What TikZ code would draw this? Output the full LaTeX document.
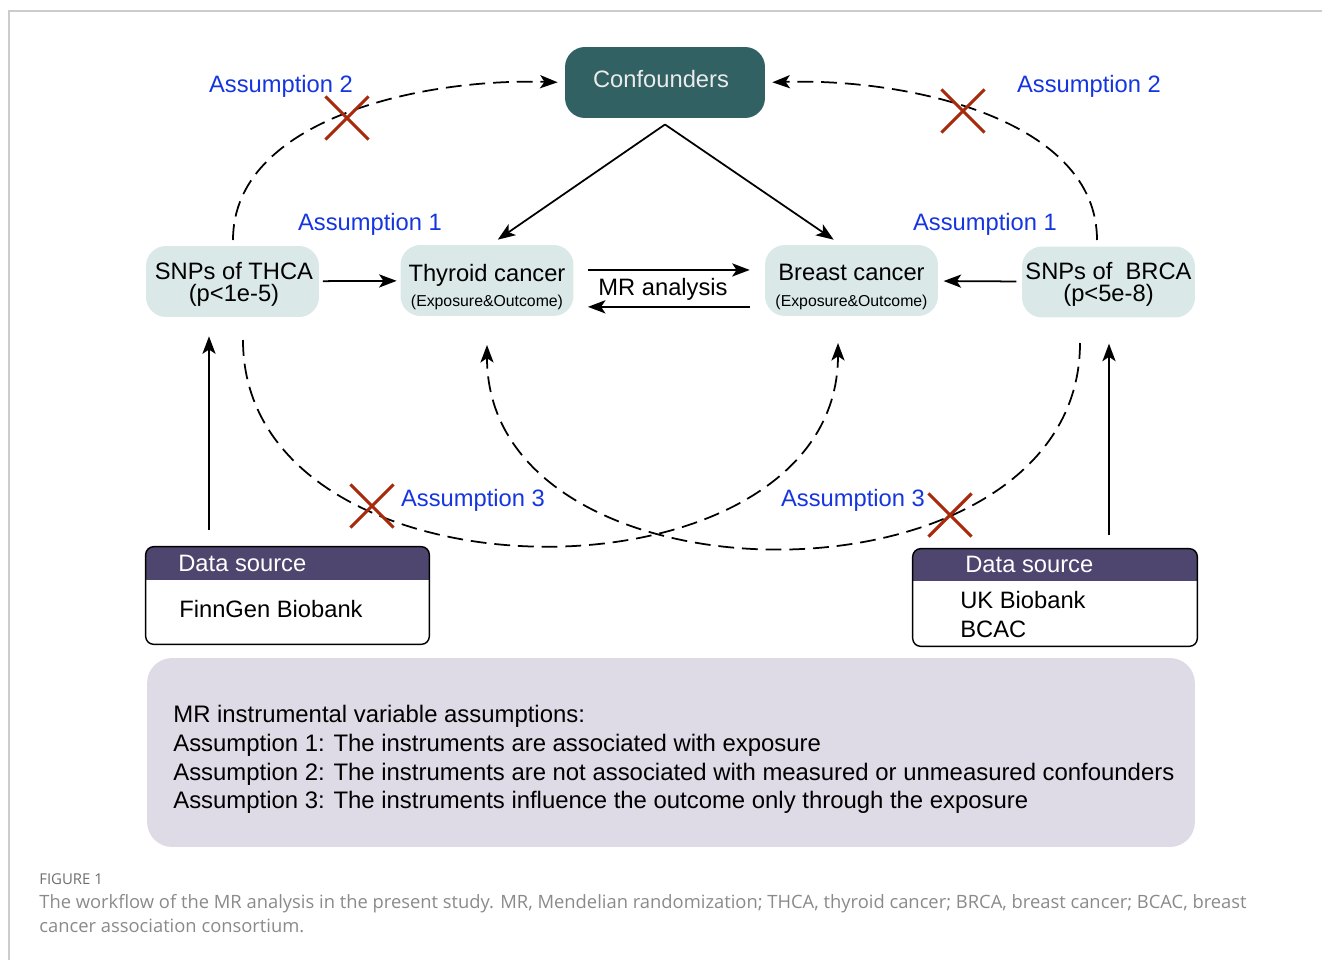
\documentclass[tikz,border=0pt]{standalone}
\usepackage{fontspec}
\setmainfont{Liberation Sans}
\newfontfamily\capfont{Open Sans}
\usetikzlibrary{arrows.meta,shapes.misc}
\definecolor{confcol}{HTML}{316163}
\definecolor{snpcol}{HTML}{DAE8E8}
\definecolor{hdrcol}{HTML}{4F466F}
\definecolor{boxcol}{HTML}{DFDBE6}
\definecolor{asmblue}{HTML}{1535E0}
\definecolor{crossred}{HTML}{A82A0C}
\definecolor{capgray}{HTML}{8A8A8A}
\definecolor{framegray}{HTML}{CCCCCC}
\begin{document}
\begin{tikzpicture}[x=0.02cm, y=-0.02cm,
	every node/.style={font=\fontsize{13.5}{16}\selectfont},
	snpbox/.style={shape=rectangle, rounded corners=0.4cm, fill=snpcol, minimum width=3.46cm, minimum height=1.42cm, inner sep=0pt},
	boxtext/.style={inner sep=0pt, align=center, font=\fontsize{13.5}{12.5}\selectfont},
	confbox/.style={shape=rectangle, rounded corners=0.4cm, fill=confcol, minimum width=4cm, minimum height=1.42cm},
	srcbox/.style={shape=rectangle, minimum width=5.66cm, minimum height=1.94cm, inner sep=0pt},
	plain/.style={inner sep=0pt},
	asmtext/.style={text=asmblue},
	nocross/.style={shape=cross out, draw=crossred, line width=1.8pt, minimum size=0.8cm, inner sep=0pt},
	arr/.style={line width=1pt, -{Stealth[length=10pt, width=7.5pt, inset=2.5pt]}},
	dasharr/.style={arr, dash pattern=on 9pt off 4.5pt}]
	\useasboundingbox (0,0) rectangle (1322,960);
	% Frame
	\draw[framegray, line width=0.8pt] (9,960) -- (9,11) -- (1322,11);
	% Top node
	\node[confbox] (conf) at (665,82.5) {};
	\node[text=white!92!black] (confT) at (661,79) {Confounders};
	% Middle row
	\node[snpbox] (snpL) at (232.5,281.5) {};
	\node[boxtext] (snpLT) at (234,284) {SNPs of THCA\\(p<1e-5)};
	\node[snpbox] (thy) at (487,280.5) {};
	\node[boxtext] (thyT) at (487,287) {Thyroid cancer\\[2pt]{\fontsize{9}{10}\selectfont (Exposure\&Outcome)}};
	\node[snpbox] (brc) at (851.5,280.5) {};
	\node[boxtext] (brcT) at (851.5,287) {Breast cancer\\[2pt]{\fontsize{9}{10}\selectfont (Exposure\&Outcome)}};
	\node[snpbox] (snpR) at (1108.5,282) {};
	\node[boxtext] (snpRT) at (1108.5,284) {SNPs of\ \ BRCA\\(p<5e-8)};
	% Connections in the middle row
	\draw[arr, shorten <=2pt, shorten >=2pt] (snpL) -- (thy);
	\draw[arr, shorten <=8pt, shorten >=8.5pt] ([yshift=6pt]thy.east) -- ([yshift=6pt]brc.west);
	\draw[arr, shorten <=8.5pt, shorten >=8pt] ([yshift=-15pt]brc.west) -- ([yshift=-15pt]thy.east);
	\node (mr) at (663,289) {MR analysis};
	\draw[arr, shorten <=3pt, shorten >=3pt] (snpR) -- (brc);
	% Confounders to outcomes
	\coordinate (apex) at ([yshift=-3.5pt]conf.south);
	\draw[arr, shorten >=5pt] (apex) -- ([xshift=2pt]thy.north);
	\draw[arr, shorten >=5pt] (apex) -- ([xshift=-6pt]brc.north);
	\node[asmtext] (a1L) at (370,224) {Assumption 1};
	\node[asmtext] (a1R) at (985,224) {Assumption 1};
	% Assumption 2
	\coordinate (c2L) at (233,240);
	\coordinate (c2R) at (1097,240);
	\draw[dasharr, shorten >=4pt] (c2L) .. controls (233,120) and (420,78) .. (conf.west);
	\draw[dasharr, shorten >=4pt] (c2R) .. controls (1097,120) and (910,78) .. (conf.east);
	\node[nocross] (x2L) at (347,118) {};
	\node[nocross] (x2R) at (963,111) {};
	\node[asmtext] (a2L) at (281,86) {Assumption 2};
	\node[asmtext] (a2R) at (1089,86) {Assumption 2};
	% Assumption 3
	\coordinate (c3L) at (243,340);
	\coordinate (e3L) at (838,343);
	\coordinate (c3R) at (1080,343);
	\coordinate (e3R) at (487,345);
	\draw[dasharr] (c3L) .. controls (243,613) and (838,613) .. (e3L);
	\draw[dasharr] (c3R) .. controls (1080,616) and (487,616) .. (e3R);
	\node[nocross] (x3L) at (372,506) {};
	\node[nocross] (x3R) at (950,515) {};
	\node[asmtext] (a3L) at (473,500) {Assumption 3};
	\node[asmtext] (a3R) at (853,500) {Assumption 3};
	% Data sources
	\node[srcbox] (srcL) at (287.5,595.5) {};
	\begin{scope}
		\clip[rounded corners=0.16cm] (srcL.north west) rectangle (srcL.south east);
		\fill[hdrcol] (srcL.north west) rectangle ([yshift=-0.66cm]srcL.north east);
	\end{scope}
	\draw[rounded corners=0.16cm, line width=0.8pt] (srcL.north west) rectangle (srcL.south east);
	\node[plain, anchor=west, text=white] (hdL) at (178,563.5) {Data source};
	\node[plain, anchor=west] (finn) at (179,609) {FinnGen Biobank};
	\node[srcbox, minimum width=5.68cm] (srcR) at (1055,597.5) {};
	\begin{scope}
		\clip[rounded corners=0.16cm] (srcR.north west) rectangle (srcR.south east);
		\fill[hdrcol] (srcR.north west) rectangle ([yshift=-0.64cm]srcR.north east);
	\end{scope}
	\draw[rounded corners=0.16cm, line width=0.8pt] (srcR.north west) rectangle (srcR.south east);
	\node[plain, anchor=west, text=white] (hdR) at (965,564.5) {Data source};
	\node[plain, anchor=west] (ukb) at (960,600) {UK Biobank};
	\node[plain, anchor=west] (bcac) at (960,629) {BCAC};
	% Data sources to SNPs
	\coordinate (upL) at (209,530);
	\coordinate (upR) at (1109,535);
	\draw[arr, shorten >=10.8pt] (upL) -- (upL |- snpL.south);
	\draw[arr, shorten >=14.7pt] (upR) -- (upR |- snpR.south);
	% Assumptions box
	\node[shape=rectangle, rounded corners=0.5cm, fill=boxcol, minimum width=20.96cm, minimum height=3.78cm] (asm) at (671,752.5) {};
	\node[plain, anchor=west, align=left, font=\fontsize{13.6}{16.4}\selectfont] (asmlist) at (173,759.5) {MR instrumental variable assumptions:\\
		Assumption 1: The instruments are associated with exposure\\
		Assumption 2: The instruments are not associated with measured or unmeasured confounders\\
		Assumption 3: The instruments influence the outcome only through the exposure};
	% Caption
	\node[plain, anchor=west, text=capgray!80!black, font=\capfont\fontsize{8.5}{10}\selectfont] (fig) at (39,879) {FIGURE 1};
	\node[plain, anchor=west, align=left, text=capgray, font=\capfont\fontsize{10.45}{13.6}\selectfont] (cap) at (39,914) {The workflow of the MR analysis in the present study. MR, Mendelian randomization; THCA, thyroid cancer; BRCA, breast cancer; BCAC, breast\\
		cancer association consortium.};
\end{tikzpicture}
\end{document}
